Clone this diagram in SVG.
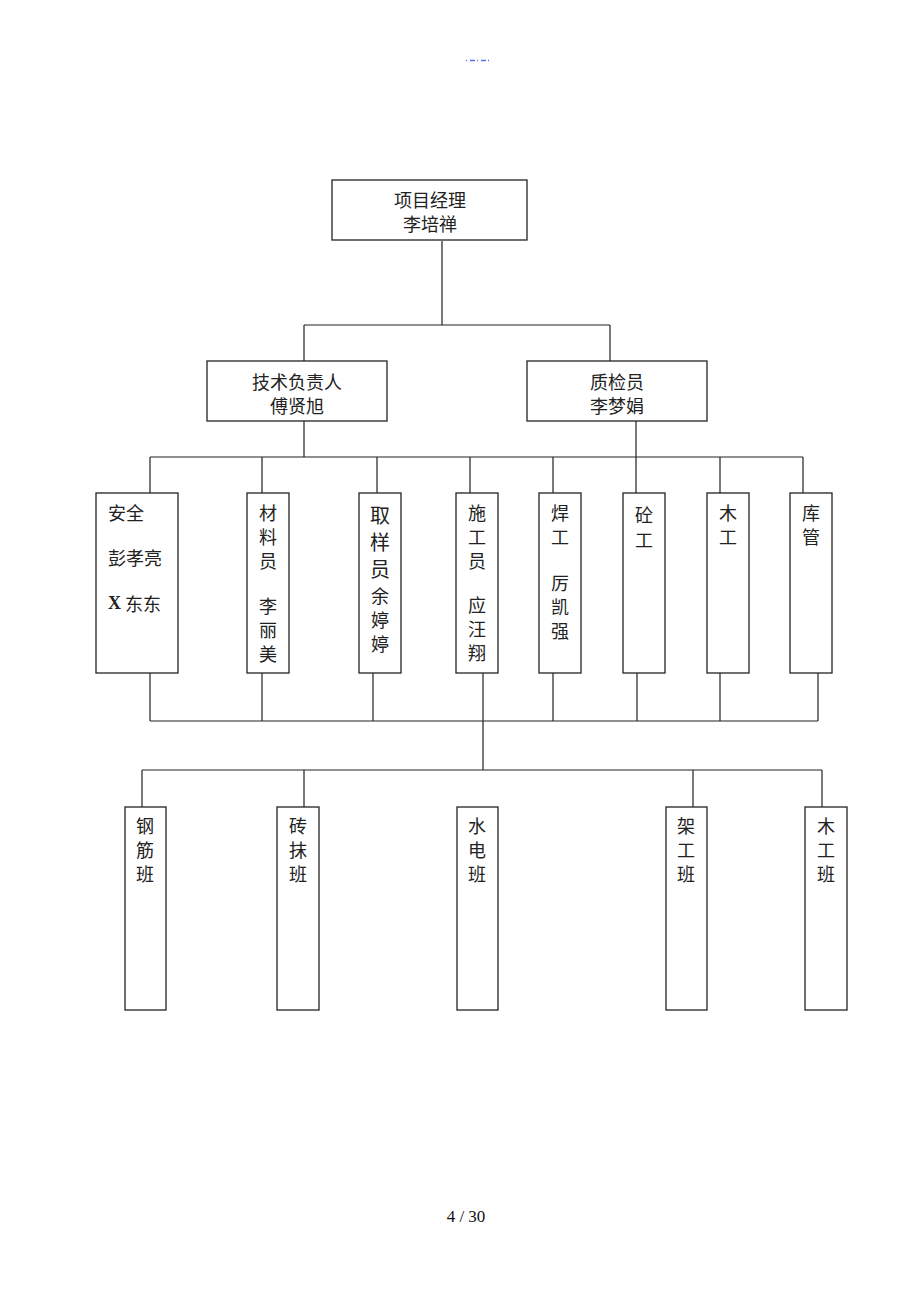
<svg xmlns="http://www.w3.org/2000/svg" width="920" height="1302" viewBox="0 0 920 1302">
<style>
.box{fill:#fff;stroke:#222;stroke-width:1.3}
.ln{fill:none;stroke:#222;stroke-width:1.2}
.t{font-family:"Noto Sans CJK SC","Noto Sans",sans-serif;font-size:18px;fill:#222;text-anchor:middle;dominant-baseline:central}
.tl{font-family:"Noto Sans CJK SC","Noto Sans",sans-serif;font-size:18px;fill:#222;dominant-baseline:central}
.tb{font-size:20px}
.ser{font-family:"Liberation Serif",serif;font-size:17px;fill:#111;text-anchor:middle}
</style>
<rect width="920" height="1302" fill="#fff"/>
<line x1="466" y1="60.5" x2="491" y2="60.5" stroke="#5a6cf0" stroke-width="1.5" stroke-dasharray="1 3 5 2"/>
<g id="connectors" class="ln">
<path d="M442 241V325M304 325H610M304 325V361M610 325V361"/>
<path d="M304 421V457M636 421V493M150 457H803"/>
<path d="M150 457V493M262 457V493M377 457V493M470 457V493M553 457V493M720 457V493M803 457V493"/>
<path d="M150 673V721M262 673V721M373 673V721M483 673V770M553 673V721M637 673V721M720 673V721M818 673V721M150 721H818"/>
<path d="M142 770H822M142 770V807M304 770V807M693 770V807M822 770V807"/>
</g>
<g id="n-pm"><rect class="box" x="332" y="180" width="195" height="60"/><text class="t" x="430" y="199">项目经理<tspan x="430" dy="24">李培禅</tspan></text></g>
<g id="n-tech"><rect class="box" x="207" y="361" width="180" height="60"/><text class="t" x="297" y="381">技术负责人<tspan x="297" dy="24">傅贤旭</tspan></text></g>
<g id="n-qc"><rect class="box" x="527" y="361" width="180" height="60"/><text class="t" x="617" y="381">质检员<tspan x="617" dy="24">李梦娟</tspan></text></g>
<g id="n-safe"><rect class="box" x="96" y="493" width="82" height="180"/><text class="tl" x="108" y="512">安全<tspan x="108" dy="45">彭孝亮</tspan><tspan x="108" dy="46" font-family="Liberation Serif" font-weight="bold">X</tspan> 东东</text></g>
<g id="n-mat"><rect class="box" x="247" y="493" width="42" height="180"/><text class="t" x="268" y="512">材<tspan x="268" dy="24">料</tspan><tspan x="268" dy="24">员</tspan><tspan x="268" dy="45">李</tspan><tspan x="268" dy="24">丽</tspan><tspan x="268" dy="24">美</tspan></text></g>
<g id="n-samp"><rect class="box" x="359" y="493" width="42" height="180"/><text class="t tb" x="380" y="514">取<tspan x="380" dy="27">样</tspan><tspan x="380" dy="27">员</tspan><tspan x="380" dy="27" font-size="18">余</tspan><tspan x="380" dy="24" font-size="18">婷</tspan><tspan x="380" dy="24" font-size="18">婷</tspan></text></g>
<g id="n-con"><rect class="box" x="456" y="493" width="42" height="180"/><text class="t" x="477" y="512">施<tspan x="477" dy="24">工</tspan><tspan x="477" dy="24">员</tspan><tspan x="477" dy="44">应</tspan><tspan x="477" dy="24">汪</tspan><tspan x="477" dy="24">翔</tspan></text></g>
<g id="n-weld"><rect class="box" x="539" y="493" width="42" height="180"/><text class="t" x="560" y="512">焊<tspan x="560" dy="24">工</tspan><tspan x="560" dy="46">厉</tspan><tspan x="560" dy="24">凯</tspan><tspan x="560" dy="24">强</tspan></text></g>
<g id="n-conc"><rect class="box" x="623" y="493" width="42" height="180"/><text class="t" font-size="18.5" x="644" y="514">砼<tspan x="644" dy="24.5">工</tspan></text></g>
<g id="n-wood"><rect class="box" x="707" y="493" width="42" height="180"/><text class="t" x="728" y="512">木<tspan x="728" dy="24">工</tspan></text></g>
<g id="n-store"><rect class="box" x="790" y="493" width="42" height="180"/><text class="t" x="811" y="512">库<tspan x="811" dy="24">管</tspan></text></g>
<g id="n-steel"><rect class="box" x="125" y="807" width="41" height="203"/><text class="t" x="145" y="825">钢<tspan x="145" dy="24">筋</tspan><tspan x="145" dy="24">班</tspan></text></g>
<g id="n-brick"><rect class="box" x="277" y="807" width="42" height="203"/><text class="t" x="298" y="825">砖<tspan x="298" dy="24">抹</tspan><tspan x="298" dy="24">班</tspan></text></g>
<g id="n-elec"><rect class="box" x="457" y="807" width="41" height="203"/><text class="t" x="477" y="825">水<tspan x="477" dy="24">电</tspan><tspan x="477" dy="24">班</tspan></text></g>
<g id="n-scaf"><rect class="box" x="666" y="807" width="41" height="203"/><text class="t" x="686" y="825">架<tspan x="686" dy="24">工</tspan><tspan x="686" dy="24">班</tspan></text></g>
<g id="n-carp"><rect class="box" x="805" y="807" width="42" height="203"/><text class="t" x="826" y="825">木<tspan x="826" dy="24">工</tspan><tspan x="826" dy="24">班</tspan></text></g>
<text class="ser" x="466" y="1222">4  / 30</text>
</svg>
